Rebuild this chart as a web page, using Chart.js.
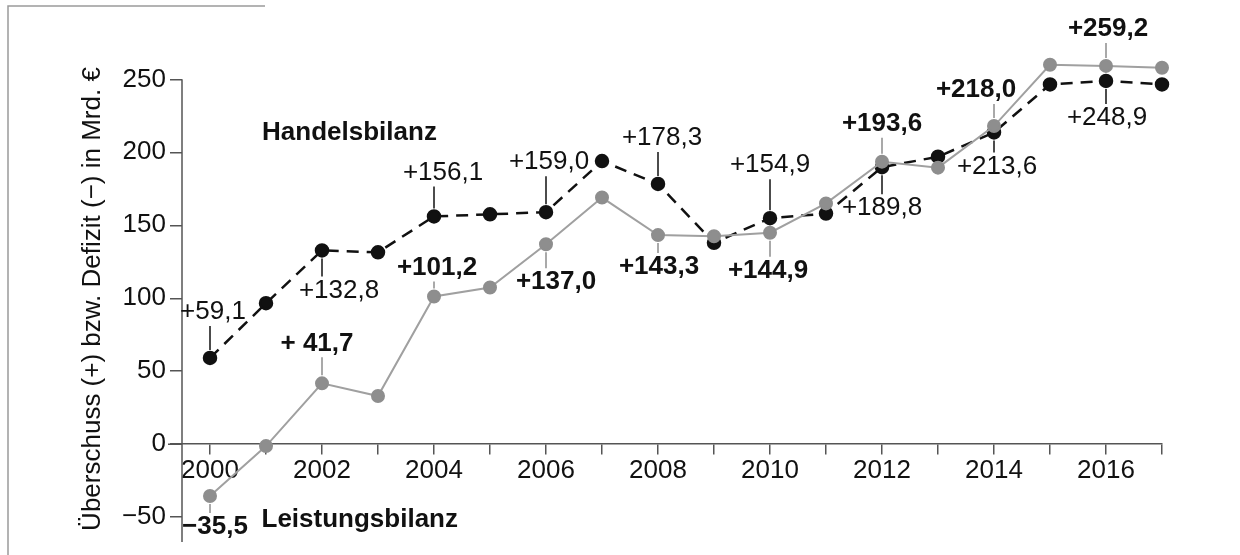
<!DOCTYPE html>
<html lang="de">
<head>
  <meta charset="UTF-8">
  <script src="https://cdn.jsdelivr.net/npm/chart.js"></script>
  <style>
    body, html {
      margin: 0;
      padding: 0;
      background: #fff;
    }
    .chart-box {
      position: relative;
      width: 1240px;
      height: 555px;
    }
  </style>
</head>
<body>
  <div class="chart-box">
    <canvas id="bilanz-chart"></canvas>
  </div>
  <script>
    const years = [2000, 2001, 2002, 2003, 2004, 2005, 2006, 2007, 2008, 2009, 2010, 2011, 2012, 2013, 2014, 2015, 2016, 2017];
    const handelsbilanz = [59.1, 96.6, 132.8, 131.5, 156.1, 157.5, 159.0, 194, 178.3, 138, 154.9, 158, 189.8, 197, 213.6, 246.5, 248.9, 246.5];
    const leistungsbilanz = [-35.5, -1.3, 41.7, 33, 101.2, 107.4, 137.0, 169, 143.3, 142.5, 144.9, 165, 193.6, 189.5, 218.0, 260, 259.2, 258];
    const yTicks = [-50, 0, 50, 100, 150, 200, 250];

    // labelled points: [year index, text, dx, dy]
    const handelLabels = [
      [0, '+59,1', 3, -46],
      [2, '+132,8', 17, 40],
      [4, '+156,1', 9, -44],
      [6, '+159,0', 3, -50],
      [8, '+178,3', 4, -46],
      [10, '+154,9', 0, -53],
      [12, '+189,8', 0, 41],
      [14, '+213,6', 3, 34],
      [16, '+248,9', 1, 37]
    ];
    const leistungLabels = [
      [0, '\u221235,5', 5, 31],
      [2, '+ 41,7', -5, -40],
      [4, '+101,2', 3, -29],
      [6, '+137,0', 10, 38],
      [8, '+143,3', 1, 32],
      [10, '+144,9', -2, 38],
      [12, '+193,6', 0, -38],
      [14, '+218,0', -18, -36],
      [16, '+259,2', 2, -37]
    ];

    const FONT = '"Liberation Sans", Arial, sans-serif';
    const toPoints = vals => vals.map((v, i) => ({ x: years[i], y: v }));

    // axis lines drawn by hand: the y axis stops at 250 although the scale goes a bit higher
    const axisPlugin = {
      id: 'axisLines',
      beforeDatasetsDraw(chart) {
        const ctx = chart.ctx;
        const ys = chart.scales.y;
        const area = chart.chartArea;
        const y0 = ys.getPixelForValue(0);
        ctx.save();
        ctx.strokeStyle = '#555';
        ctx.lineWidth = 1.5;
        ctx.beginPath();
        ctx.moveTo(area.left, ys.getPixelForValue(250));
        ctx.lineTo(area.left, area.bottom);
        ctx.moveTo(area.left - 14, y0);
        ctx.lineTo(area.left, y0);
        ctx.stroke();
        // scan frame
        ctx.strokeStyle = '#9a9a9a';
        ctx.lineWidth = 1.5;
        ctx.beginPath();
        ctx.moveTo(265, 6);
        ctx.lineTo(8, 6);
        ctx.lineTo(8, 555);
        ctx.stroke();
        ctx.restore();
      }
    };

    const labelPlugin = {
      id: 'pointLabels',
      afterDatasetsDraw(chart) {
        const ctx = chart.ctx;
        const xs = chart.scales.x;
        const ys = chart.scales.y;
        const sets = [
          { labels: leistungLabels, values: leistungsbilanz, bold: true, lineColor: '#8c8c8c' },
          { labels: handelLabels, values: handelsbilanz, bold: false, lineColor: '#111' }
        ];
        ctx.save();
        ctx.textAlign = 'center';
        ctx.textBaseline = 'middle';
        sets.forEach(set => {
          set.labels.forEach(([i, text, dx, dy]) => {
            const px = xs.getPixelForValue(years[i]);
            const py = ys.getPixelForValue(set.values[i]);
            const dir = dy < 0 ? -1 : 1;
            const from = py + dir * 8;
            const to = py + dy - dir * 14;
            if ((to - from) * dir > 0) {
              ctx.strokeStyle = set.lineColor;
              ctx.lineWidth = 1.5;
              ctx.beginPath();
              ctx.moveTo(px, from);
              ctx.lineTo(px, to);
              ctx.stroke();
            }
            ctx.fillStyle = '#111';
            ctx.font = (set.bold ? 'bold ' : '') + '26px ' + FONT;
            ctx.fillText(text, px + dx, py + dy);
          });
        });
        // series names
        ctx.textAlign = 'left';
        ctx.font = 'bold 26px ' + FONT;
        ctx.fillText('Handelsbilanz', xs.getPixelForValue(2000.93), ys.getPixelForValue(213.5));
        ctx.fillText('Leistungsbilanz', xs.getPixelForValue(2000.92), ys.getPixelForValue(-52));
        ctx.restore();
      }
    };

    new Chart(document.getElementById('bilanz-chart'), {
      type: 'line',
      data: {
        datasets: [{
          label: 'Leistungsbilanz',
          data: toPoints(leistungsbilanz),
          borderColor: '#a0a0a0',
          borderWidth: 2,
          pointRadius: 6,
          pointBackgroundColor: '#8e8e8e',
          pointBorderColor: '#8e8e8e',
          tension: 0,
          clip: false
        }, {
          label: 'Handelsbilanz',
          data: toPoints(handelsbilanz),
          borderColor: '#111',
          borderWidth: 2.5,
          borderDash: [12, 8],
          pointRadius: 6,
          pointBackgroundColor: '#111',
          pointBorderColor: '#111',
          tension: 0,
          clip: false
        }]
      },
      options: {
        responsive: true,
        maintainAspectRatio: false,
        animation: false,
        layout: {
          padding: { left: 70, top: 56, right: 78, bottom: 13 }
        },
        plugins: {
          legend: { display: false },
          tooltip: { enabled: false }
        },
        scales: {
          x: {
            type: 'linear',
            position: { y: 0 },
            min: 1999.5,
            max: 2017,
            afterFit(scale) {
              scale.height = 0;
              scale.paddingLeft = 0;
              scale.paddingRight = 0;
            },
            afterBuildTicks(scale) {
              scale.ticks = years.map(v => ({ value: v }));
            },
            grid: {
              drawOnChartArea: false,
              tickLength: 10,
              color: '#555',
              lineWidth: 1.5
            },
            border: { display: true, color: '#555', width: 1.5 },
            ticks: {
              padding: 1,
              color: '#111',
              font: { size: 26, family: FONT },
              autoSkip: false,
              maxRotation: 0,
              callback: v => (v % 2 === 0 ? String(v) : '')
            }
          },
          y: {
            min: -67,
            max: 266,
            afterFit(scale) {
              scale.width = 112;
              scale.paddingTop = 0;
              scale.paddingBottom = 0;
            },
            afterBuildTicks(scale) {
              scale.ticks = yTicks.map(v => ({ value: v }));
            },
            grid: {
              drawOnChartArea: false,
              tickLength: 12,
              color: '#555',
              lineWidth: 1.5
            },
            border: { display: false },
            ticks: {
              padding: 4,
              color: '#111',
              font: { size: 26, family: FONT },
              callback: v => (v < 0 ? '\u2212' + Math.abs(v) : String(v))
            },
            title: {
              display: true,
              text: '\u00dcberschuss (+) bzw. Defizit (\u2212) in Mrd. \u20ac',
              color: '#111',
              padding: { top: 7, bottom: 0 },
              font: { size: 26, family: FONT }
            }
          }
        }
      },
      plugins: [axisPlugin, labelPlugin]
    });
  </script>
</body>
</html>
